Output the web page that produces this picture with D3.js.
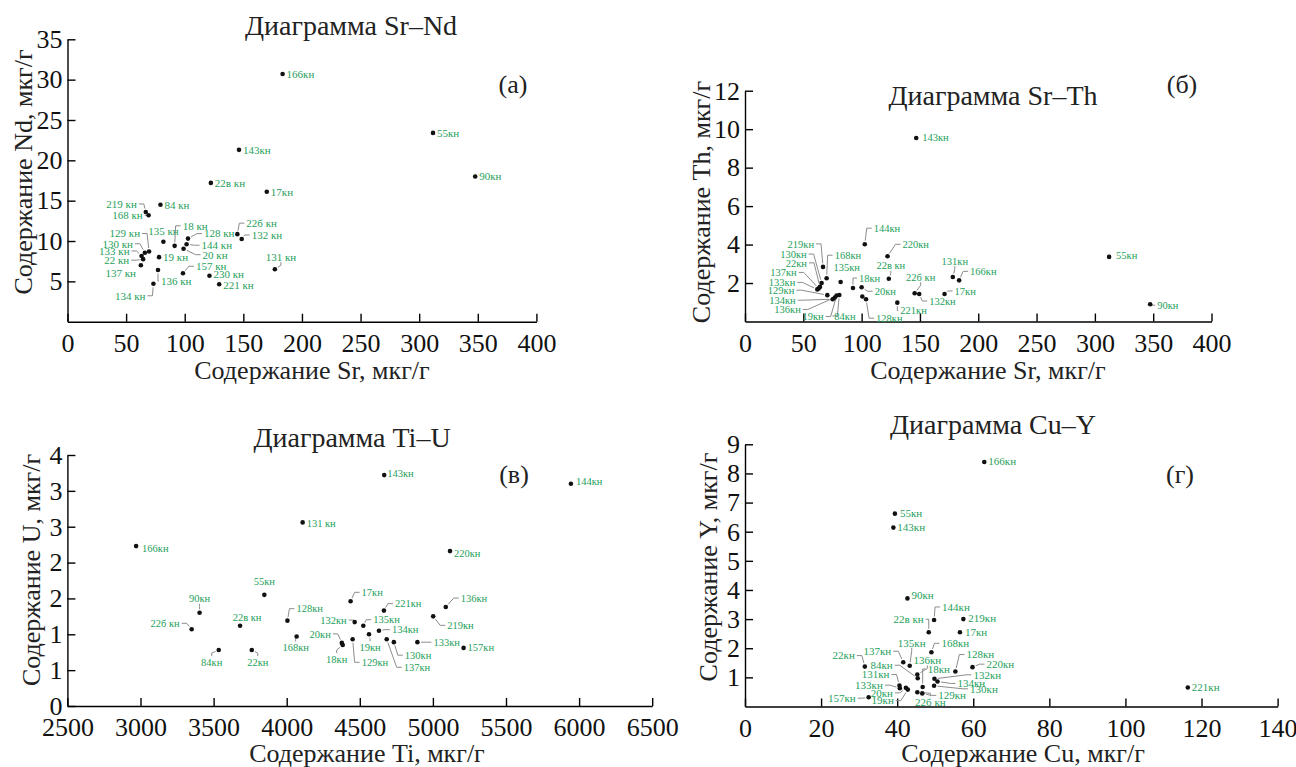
<!DOCTYPE html>
<html>
<head>
<meta charset="utf-8">
<script src="https://cdn.jsdelivr.net/npm/d3@7"></script>
<style>
  body { margin: 0; background: #fff; }
  text { font-family: "Liberation Serif", "Times New Roman", serif; }
  .label { fill: #1f9f5c; font-size: 11px; }
  .small .label { font-size: 10.5px; }
  .leader { stroke: #8c8c8c; fill: none; stroke-width: 1; }
  .dot { fill: #111; }
  .axis path, .axis line { stroke: #000; stroke-width: 1.4; }
  .axis text { font-size: 26px; fill: #111; }
  .title { font-size: 28px; fill: #222; }
  .axis-title { font-size: 26px; fill: #222; }
  .letter { font-size: 26px; fill: #222; }
</style>
</head>
<body>
<svg id="chart" width="1296" height="767"></svg>
<script>
  // (а) Sr–Nd
  var srNdNames = ["166кн", "55кн", "90кн", "143кн", "22в кн", "17кн", "84 кн", "219 кн", "168 кн", "135 кн",
    "18 кн", "128 кн", "144 кн", "20 кн", "129 кн", "130 кн", "133 кн", "22 кн", "137 кн", "19 кн",
    "136 кн", "157 кн", "230 кн", "221 кн", "134 кн", "131 кн", "22б кн", "132 кн"];
  var srNdSr = [183.5, 311.8, 347.8, 146.3, 122.3, 170, 79.3, 66.8, 69.2, 81.8,
    91.4, 102.8, 101.6, 99, 69.6, 66, 63.2, 64.5, 62.6, 78.1,
    77.2, 98.5, 121.1, 129.4, 73.3, 176.9, 144.9, 148.6];
  var srNdNd = [30.7, 23.4, 18.0, 21.3, 17.2, 16.1, 14.5, 13.6, 13.2, 9.9,
    9.4, 10.3, 9.6, 9.05, 8.7, 8.55, 8.15, 7.75, 7.0, 8.0,
    6.4, 6.0, 5.7, 4.65, 4.7, 6.5, 10.85, 10.25];

  // (б) Sr–Th
  var srThNames = ["143кн", "55кн", "90кн", "144кн", "220кн", "219кн", "168кн", "130кн", "22кн", "137кн",
    "133кн", "129кн", "134кн", "136кн", "19кн", "84кн", "135кн", "18кн", "20кн", "",
    "128кн", "22в кн", "22б кн", "132кн", "221кн", "131кн", "166кн", "17кн"];
  var srThSr = [146.8, 312.2, 347.4, 102.7, 122.2, 66.9, 70.0, 65.7, 64.3, 63.2,
    62.0, 70.6, 75.2, 77.0, 78.6, 80.9, 82.0, 92.6, 100.0, 100.6,
    103.8, 123.3, 145.5, 149.4, 130.6, 178.2, 183.6, 171.1];
  var srThTh = [9.54, 3.36, 0.90, 4.02, 3.39, 2.84, 2.25, 2.0, 1.8, 1.72,
    1.67, 1.37, 1.16, 1.25, 1.35, 1.38, 2.05, 1.74, 1.78, 1.3,
    1.16, 2.22, 1.47, 1.43, 0.98, 2.31, 2.14, 1.43];

  // (в) Ti–U
  var tiUNames = ["143кн", "144кн", "131 кн", "166кн", "220кн", "55кн", "90кн", "22б кн", "22в кн", "84кн",
    "22кн", "128кн", "168кн", "17кн", "221кн", "136кн", "219кн", "132кн", "135кн", "134кн",
    "19кн", "20кн", "18кн", "129кн", "137кн", "130кн", "133кн", "157кн"];
  var tiUTi = [4667, 5944, 4109, 2970, 5117, 3847, 3404, 3350, 3681, 3535,
    3761, 4005, 4068, 4437, 4665, 5088, 5002, 4465, 4524, 4631,
    4563, 4377, 4383, 4451, 4684, 4733, 4894, 5210];
  var tiUU = [3.22, 3.10, 2.56, 2.23, 2.16, 1.55, 1.30, 1.07, 1.12, 0.78,
    0.78, 1.19, 0.97, 1.46, 1.33, 1.38, 1.25, 1.17, 1.12, 1.05,
    1.0, 0.88, 0.85, 0.93, 0.93, 0.89, 0.89, 0.81];

  // (г) Cu–Y
  var cuYNames = ["166кн", "55кн", "143кн", "90кн", "144кн", "219кн", "22в кн", "17кн", "168кн", "137кн",
    "135кн", "22кн", "136кн", "84кн", "18кн", "128кн", "220кн", "131кн", "133кн", "20кн",
    "19кн", "132кн", "134кн", "130кн", "129кн", "22б кн", "157кн", "221кн"];
  var cuYCu = [62.9, 39.4, 39.0, 42.7, 49.7, 57.4, 48.3, 56.5, 49.0, 41.6,
    43.3, 31.5, 45.3, 45.4, 46.7, 55.3, 59.8, 40.6, 40.7, 42.3,
    42.8, 49.8, 50.6, 49.7, 46.6, 45.3, 32.5, 116.4];
  var cuYY = [8.39, 6.62, 6.14, 3.71, 2.97, 3.0, 2.55, 2.55, 1.86, 1.52,
    1.40, 1.37, 1.10, 0.97, 0.67, 1.20, 1.35, 0.72, 0.63, 0.64,
    0.58, 0.95, 0.86, 0.71, 0.45, 0.49, 0.32, 0.65];

  // tick values and labels
  var srTicks = [0, 50, 100, 150, 200, 250, 300, 350, 400];
  var ndTicks = [5, 10, 15, 20, 25, 30, 35];
  var thTicks = [2, 4, 6, 8, 10, 12];
  var tiTicks = [2500, 3000, 3500, 4000, 4500, 5000, 5500, 6000, 6500];
  var uTicks = [0, 0.5, 1, 1.5, 2, 2.5, 3, 3.5];
  var uTickLabels = ["0", "1", "1", "2", "2", "3", "3", "4"];
  var cuTicks = [0, 20, 40, 60, 80, 100, 120, 140];
  var yTicks = [1, 2, 3, 4, 5, 6, 7, 8, 9];

  // label placement: [dx, dy, anchor (s/e/m), leader line]
  var srNdLabels = {
    "166кн": [4, 0, "s", 0], "55кн": [4, 0, "s", 0], "90кн": [4, 0, "s", 0], "143кн": [4, 0, "s", 0],
    "22в кн": [4, 0, "s", 0], "17кн": [4, 0, "s", 0], "84 кн": [4, 0, "s", 0],
    "219 кн": [-9, -8, "e", 1], "168 кн": [-6, 0, "e", 1], "135 кн": [0, -11, "m", 0],
    "18 кн": [8, -20, "s", 1], "128 кн": [16, -5, "s", 1], "144 кн": [15, 1, "s", 1], "20 кн": [19, 6, "s", 1],
    "129 кн": [-9, -18, "e", 1], "130 кн": [-12, -9, "e", 1], "133 кн": [-12, -5, "e", 1], "22 кн": [-14, 1, "e", 1],
    "137 кн": [-5, 8, "e", 0], "19 кн": [4, 0, "s", 0], "136 кн": [3, 11, "s", 1], "157 кн": [13, -7, "s", 1],
    "230 кн": [4, -2, "s", 0], "221 кн": [4, 1, "s", 0], "134 кн": [-8, 12, "e", 1], "131 кн": [6, -12, "m", 1],
    "22б кн": [9, -11, "s", 1], "132 кн": [10, -4, "s", 1]
  };
  var srThLabels = {
    "143кн": [6, -1, "s", 0], "55кн": [7, -2, "s", 0], "90кн": [7, 1, "s", 1], "144кн": [9, -16, "s", 1],
    "220кн": [15, -12, "s", 1], "219кн": [-9, -23, "e", 1], "130кн": [-15, -29, "e", 1], "22кн": [-13, -24, "e", 1],
    "137кн": [-22, -16, "e", 1], "133кн": [-22, -7, "e", 1], "129кн": [-33, -5, "e", 1], "134кн": [-37, 1, "e", 1],
    "136кн": [-34, 12, "e", 1], "19кн": [-13, 21, "e", 1], "84кн": [-5, 21, "s", 1], "168кн": [8, -23, "s", 1],
    "135кн": [6, -15, "m", 0], "18кн": [6, -10, "s", 1], "20кн": [13, 4, "s", 1], "22в кн": [2, -13, "m", 1],
    "22б кн": [6, -16, "m", 1], "132кн": [10, 7, "s", 1], "221кн": [3, 8, "s", 1], "128кн": [10, 19, "s", 1],
    "131кн": [2, -16, "m", 1], "166кн": [11, -9, "s", 1], "17кн": [10, -3, "s", 1]
  };
  var tiULabels = {
    "143кн": [3, -2, "s", 0], "144кн": [5, -2, "s", 0], "131 кн": [4, 1, "s", 0], "166кн": [6, 2, "s", 0],
    "220кн": [4, 2, "s", 0], "55кн": [0, -14, "m", 0], "90кн": [0, -14, "m", 1], "22б кн": [-12, -6, "e", 1],
    "22в кн": [7, -8, "m", 0], "84кн": [-7, 12, "m", 1], "22кн": [6, 12, "m", 1], "128кн": [9, -12, "s", 1],
    "168кн": [-1, 11, "m", 1], "17кн": [11, -9, "s", 1], "221кн": [11, -7, "s", 1], "136кн": [15, -9, "s", 1],
    "219кн": [14, 9, "s", 1], "132кн": [-8, -2, "e", 1], "135кн": [10, -6, "s", 1], "134кн": [13, -1, "s", 1],
    "19кн": [1, 13, "m", 1], "20кн": [-11, -9, "e", 1], "18кн": [-6, 14, "m", 1], "129кн": [9, 23, "s", 1],
    "137кн": [17, 28, "s", 1], "130кн": [11, 13, "s", 1], "133кн": [16, 0, "s", 1], "157кн": [4, -1, "s", 0]
  };
  var cuYLabels = {
    "166кн": [4, -1, "s", 0], "55кн": [5, 0, "s", 0], "143кн": [4, 0, "s", 0], "90кн": [4, -3, "s", 0],
    "144кн": [8, -13, "s", 1], "219кн": [5, -1, "s", 0], "22в кн": [-5, -13, "e", 1], "17кн": [5, 0, "s", 0],
    "168кн": [10, -9, "s", 1], "135кн": [2, -23, "m", 1], "137кн": [-12, -11, "e", 1], "136кн": [10, -14, "m", 1],
    "22кн": [-10, -11, "e", 1], "84кн": [-25, -13, "e", 1], "18кн": [5, -18, "s", 1], "128кн": [11, -17, "s", 1],
    "220кн": [14, -3, "s", 1], "131кн": [-10, -11, "e", 1], "133кн": [-17, -3, "e", 1], "20кн": [-13, 5, "e", 1],
    "19кн": [-14, 11, "e", 1], "157кн": [-13, 1, "e", 1], "132кн": [39, -4, "s", 1], "134кн": [20, 2, "s", 1],
    "130кн": [36, 3, "s", 1], "129кн": [16, 2, "s", 1], "22б кн": [13, 10, "m", 1], "221кн": [4, 0, "s", 0]
  };

  var panels = [
    { names: srNdNames, xs: srNdSr, ys: srNdNd, labels: srNdLabels, cls: "",
      xDomain: [0, 400], xRange: [67.5, 536.4], yDomain: [0, 35], yRange: [321.7, 39.3],
      xTicks: srTicks, yTicks: ndTicks, yTickLabels: null,
      title: "Диаграмма Sr–Nd", titlePos: [351, 25], letter: "(а)", letterPos: [513, 84],
      xTitle: "Содержание Sr, мкг/г", xTitlePos: [312, 370], yTitle: "Содержание Nd, мкг/г", yTitlePos: [23, 172] },
    { names: srThNames, xs: srThSr, ys: srThTh, labels: srThLabels, cls: "small",
      xDomain: [0, 400], xRange: [745, 1211.5], yDomain: [0, 12], yRange: [321.5, 90.7],
      xTicks: srTicks, yTicks: thTicks, yTickLabels: null,
      title: "Диаграмма Sr–Th", titlePos: [993, 95], letter: "(б)", letterPos: [1182, 84],
      xTitle: "Содержание Sr, мкг/г", xTitlePos: [988, 370], yTitle: "Содержание Th, мкг/г", yTitlePos: [701, 202] },
    { names: tiUNames, xs: tiUTi, ys: tiUU, labels: tiULabels, cls: "small",
      xDomain: [2500, 6500], xRange: [67.4, 652.2], yDomain: [0, 3.5], yRange: [706, 455],
      xTicks: tiTicks, yTicks: uTicks, yTickLabels: uTickLabels,
      title: "Диаграмма Ti–U", titlePos: [352, 437], letter: "(в)", letterPos: [514, 474],
      xTitle: "Содержание Ti, мкг/г", xTitlePos: [367, 753], yTitle: "Содержание U, мкг/г", yTitlePos: [31, 570] },
    { names: cuYNames, xs: cuYCu, ys: cuYY, labels: cuYLabels, cls: "",
      xDomain: [0, 140], xRange: [745, 1277.6], yDomain: [0, 9], yRange: [706.5, 444.3],
      xTicks: cuTicks, yTicks: yTicks, yTickLabels: null,
      title: "Диаграмма Cu–Y", titlePos: [993, 424], letter: "(г)", letterPos: [1180, 474],
      xTitle: "Содержание Cu, мкг/г", xTitlePos: [1023, 753], yTitle: "Содержание Y, мкг/г", yTitlePos: [708, 567] }
  ];

  var svg = d3.select("#chart");
  var serif = "'Liberation Serif', 'Times New Roman', serif";

  function leaderPoints(px, py, tx, ty, anchor) {
    var ax, ay, ex, ey;
    if (anchor === "m") {
      var up = ty < py;
      ax = tx; ay = ty + (up ? 5 : -6);
      ex = ax; ey = ay + (up ? 3 : -3);
    } else {
      ax = tx + (anchor === "e" ? 2 : -2); ay = ty;
      var step = Math.min(5, Math.abs(px - ax));
      ex = ax + (px > ax ? step : -step); ey = ay;
    }
    var dx = px - ex, dy = py - ey;
    var len = Math.sqrt(dx * dx + dy * dy);
    var k = len > 4 ? (len - 3.5) / len : 0;
    return [[ax, ay], [ex, ey], [ex + dx * k, ey + dy * k]];
  }

  function renderPanel(p) {
    var x = d3.scaleLinear().domain(p.xDomain).range(p.xRange);
    var y = d3.scaleLinear().domain(p.yDomain).range(p.yRange);
    var g = svg.append("g").attr("class", p.cls);

    var xAxis = d3.axisBottom(x)
      .tickValues(p.xTicks)
      .tickFormat(d3.format("d"))
      .tickSizeInner(-8)
      .tickSizeOuter(0)
      .tickPadding(12);

    var yAxis = d3.axisLeft(y)
      .tickValues(p.yTicks)
      .tickFormat(function(d, i) { return p.yTickLabels ? p.yTickLabels[i] : d; })
      .tickSizeInner(-8)
      .tickSizeOuter(0)
      .tickPadding(5);

    g.append("g")
      .attr("class", "axis")
      .attr("transform", "translate(0," + y(p.yDomain[0]) + ")")
      .call(xAxis)
      .attr("font-family", serif)
      .attr("font-size", 26);

    g.append("g")
      .attr("class", "axis")
      .attr("transform", "translate(" + x(p.xDomain[0]) + ",0)")
      .call(yAxis)
      .attr("font-family", serif)
      .attr("font-size", 26);

    var data = p.names.map(function(n, i) { return { name: n, x: p.xs[i], y: p.ys[i] }; });

    var line = d3.line();
    data.forEach(function(d) {
      var l = p.labels[d.name];
      if (!l || !l[3]) return;
      var px = x(d.x), py = y(d.y);
      g.append("path")
        .attr("class", "leader")
        .attr("d", line(leaderPoints(px, py, px + l[0], py + l[1], l[2])));
    });

    g.selectAll(".dot")
      .data(data)
      .enter()
      .append("circle")
      .attr("class", "dot")
      .attr("cx", function(d) { return x(d.x); })
      .attr("cy", function(d) { return y(d.y); })
      .attr("r", 2.3);

    g.selectAll(".label")
      .data(data.filter(function(d) { return p.labels[d.name]; }))
      .enter()
      .append("text")
      .attr("class", "label")
      .attr("x", function(d) { return x(d.x) + p.labels[d.name][0]; })
      .attr("y", function(d) { return y(d.y) + p.labels[d.name][1]; })
      .attr("dy", "0.35em")
      .attr("text-anchor", function(d) {
        var a = p.labels[d.name][2];
        return a === "e" ? "end" : (a === "m" ? "middle" : "start");
      })
      .text(function(d) { return d.name; });

    g.append("text")
      .attr("class", "title")
      .attr("x", p.titlePos[0])
      .attr("y", p.titlePos[1])
      .attr("dy", "0.35em")
      .attr("text-anchor", "middle")
      .text(p.title);

    g.append("text")
      .attr("class", "letter")
      .attr("x", p.letterPos[0])
      .attr("y", p.letterPos[1])
      .attr("dy", "0.35em")
      .attr("text-anchor", "middle")
      .text(p.letter);

    g.append("text")
      .attr("class", "axis-title")
      .attr("x", p.xTitlePos[0])
      .attr("y", p.xTitlePos[1])
      .attr("dy", "0.35em")
      .attr("text-anchor", "middle")
      .text(p.xTitle);

    g.append("text")
      .attr("class", "axis-title")
      .attr("transform", "translate(" + p.yTitlePos[0] + "," + p.yTitlePos[1] + ") rotate(-90)")
      .attr("dy", "0.35em")
      .attr("text-anchor", "middle")
      .text(p.yTitle);
  }

  panels.forEach(renderPanel);
</script>
</body>
</html>
